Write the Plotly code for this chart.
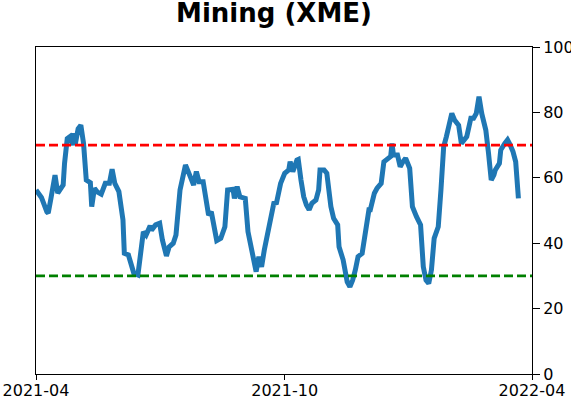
import plotly.graph_objects as go

# readings of the indicator
dates = [
    "2021-04-01", "2021-04-05", "2021-04-09", "2021-04-10", "2021-04-12", "2021-04-15",
    "2021-04-17", "2021-04-21", "2021-04-22", "2021-04-24", "2021-04-26", "2021-04-28",
    "2021-04-29", "2021-04-30", "2021-05-02", "2021-05-04", "2021-05-06", "2021-05-08",
    "2021-05-11", "2021-05-12", "2021-05-14", "2021-05-16", "2021-05-19", "2021-05-22",
    "2021-05-25", "2021-05-27", "2021-05-29", "2021-06-01", "2021-06-04", "2021-06-05",
    "2021-06-08", "2021-06-10", "2021-06-12", "2021-06-15", "2021-06-17", "2021-06-19",
    "2021-06-21", "2021-06-24", "2021-06-25", "2021-06-28", "2021-07-01", "2021-07-03",
    "2021-07-06", "2021-07-08", "2021-07-11", "2021-07-13", "2021-07-16", "2021-07-18",
    "2021-07-20", "2021-07-23", "2021-07-26", "2021-07-28", "2021-07-30", "2021-08-02",
    "2021-08-04", "2021-08-06", "2021-08-08", "2021-08-11", "2021-08-12", "2021-08-15",
    "2021-08-18", "2021-08-20", "2021-08-24", "2021-08-25", "2021-08-27", "2021-08-29",
    "2021-09-02", "2021-09-04", "2021-09-06", "2021-09-08", "2021-09-10", "2021-09-12",
    "2021-09-14", "2021-09-16", "2021-09-18", "2021-09-21", "2021-09-23", "2021-09-25",
    "2021-09-28", "2021-10-01", "2021-10-04", "2021-10-05", "2021-10-07", "2021-10-10",
    "2021-10-11", "2021-10-13", "2021-10-15", "2021-10-17", "2021-10-19", "2021-10-21",
    "2021-10-24", "2021-10-26", "2021-10-27", "2021-10-30", "2021-11-01", "2021-11-04",
    "2021-11-06", "2021-11-09", "2021-11-10", "2021-11-13", "2021-11-15", "2021-11-16",
    "2021-11-18", "2021-11-20", "2021-11-22", "2021-11-24", "2021-11-27", "2021-11-30",
    "2021-12-02", "2021-12-03", "2021-12-06", "2021-12-08", "2021-12-11", "2021-12-13",
    "2021-12-16", "2021-12-18", "2021-12-19", "2021-12-20", "2021-12-23", "2021-12-25",
    "2021-12-27", "2021-12-29", "2022-01-01", "2022-01-03", "2022-01-06", "2022-01-09",
    "2022-01-11", "2022-01-13", "2022-01-15", "2022-01-17", "2022-01-19", "2022-01-22",
    "2022-01-24", "2022-01-26", "2022-01-28", "2022-01-30", "2022-02-01", "2022-02-03",
    "2022-02-06", "2022-02-08", "2022-02-10", "2022-02-12", "2022-02-15", "2022-02-17",
    "2022-02-19", "2022-02-21", "2022-02-23", "2022-02-26", "2022-02-28", "2022-03-02",
    "2022-03-04", "2022-03-05", "2022-03-08", "2022-03-09", "2022-03-12", "2022-03-14",
    "2022-03-16", "2022-03-18", "2022-03-20", "2022-03-21", "2022-03-22",
]
values = [
    56.3, 54.0, 49.6, 49.2, 53.7, 60.8,
    55.3, 57.8, 64.4, 72.0, 72.6, 70.0,
    73.6, 70.5, 75.0, 76.1, 70.5, 59.3,
    58.5, 51.2, 56.8, 55.7, 55.0, 58.3,
    58.3, 62.6, 58.3, 55.8, 47.1, 36.9,
    36.4, 32.8, 30.8, 30.3, 35.9, 43.5,
    42.5, 45.3, 44.0, 45.6, 46.1, 41.0,
    36.1, 38.9, 40.0, 42.5, 56.3, 59.8,
    63.9, 60.9, 57.8, 61.9, 58.8, 58.8,
    53.2, 48.6, 49.6, 43.5, 40.8, 41.5,
    45.0, 56.3, 56.5, 53.7, 57.3, 54.2,
    53.7, 43.5, 39.4, 34.9, 31.3, 35.9,
    32.8, 37.9, 42.5, 48.1, 52.2, 52.4,
    58.3, 61.4, 62.4, 64.9, 61.9, 65.4,
    65.6, 59.3, 54.2, 51.7, 50.2, 52.2,
    53.2, 56.3, 62.4, 62.4, 61.4, 51.2,
    47.6, 45.6, 38.9, 34.9, 31.3, 28.2,
    26.7, 28.7, 31.8, 35.9, 36.9, 44.0,
    50.2, 50.2, 55.3, 56.8, 58.3, 64.9,
    65.9, 66.5, 70.5, 67.0, 67.0, 63.4,
    64.9, 66.0, 62.9, 51.2, 48.1, 45.6,
    32.8, 28.7, 27.7, 31.8, 41.5, 45.0,
    56.3, 69.5, 72.6, 76.7, 79.7, 77.7,
    76.1, 70.5, 71.6, 72.6, 78.2, 78.2,
    79.7, 84.8, 79.7, 74.6, 67.5, 59.3,
    60.9, 62.4, 64.4, 68.5, 70.5, 71.6,
    70.0, 68.0, 64.9, 59.3, 53.7,
]

upper_level = 70
lower_level = 30

x_ticks = ["2021-04-01", "2021-10-01", "2022-04-01"]
x_tick_labels = ["2021-04", "2021-10", "2022-04"]
y_ticks = [0, 20, 40, 60, 80, 100]

fig = go.Figure()

fig.add_trace(go.Scatter(
    x=dates, y=values,
    mode="lines",
    line=dict(color="#1f77b4", width=5),
    showlegend=False,
))

# reference levels
fig.add_hline(y=upper_level, line=dict(color="#ff0000", width=2.6, dash="9px,4px"), layer="above")
fig.add_hline(y=lower_level, line=dict(color="#008000", width=2.6, dash="9px,4px"), layer="above")

fig.update_layout(
    title=dict(
        text="<b>Mining (XME)</b>",
        font=dict(size=26, color="black"),
        x=274 / 571, xref="container", xanchor="center",
        y=1 - 12.5 / 402, yref="container", yanchor="middle",
    ),
    width=571, height=402,
    margin=dict(l=36, r=39, t=47, b=28),
    paper_bgcolor="white",
    plot_bgcolor="white",
    font=dict(family="DejaVu Sans", size=16, color="black"),
    xaxis=dict(
        type="date",
        range=["2021-04-01", "2022-04-01"],
        tickvals=x_ticks, ticktext=x_tick_labels,
        ticks="outside", ticklen=5, tickcolor="black",
        ticklabelstandoff=-3,
        showline=True, linecolor="black", linewidth=1, mirror=True,
        showgrid=False, zeroline=False, automargin=False,
    ),
    yaxis=dict(
        range=[0, 100],
        tickvals=y_ticks,
        side="right",
        ticks="outside", ticklen=7, tickcolor="black",
        showline=True, linecolor="black", linewidth=1, mirror=True,
        showgrid=False, zeroline=False, automargin=False,
    ),
)

# the page's default body margin would shift the figure by 8px
fig.write_html(
    "out.html",
    config={"displayModeBar": False},
    post_script="document.body.style.margin='0';",
)
